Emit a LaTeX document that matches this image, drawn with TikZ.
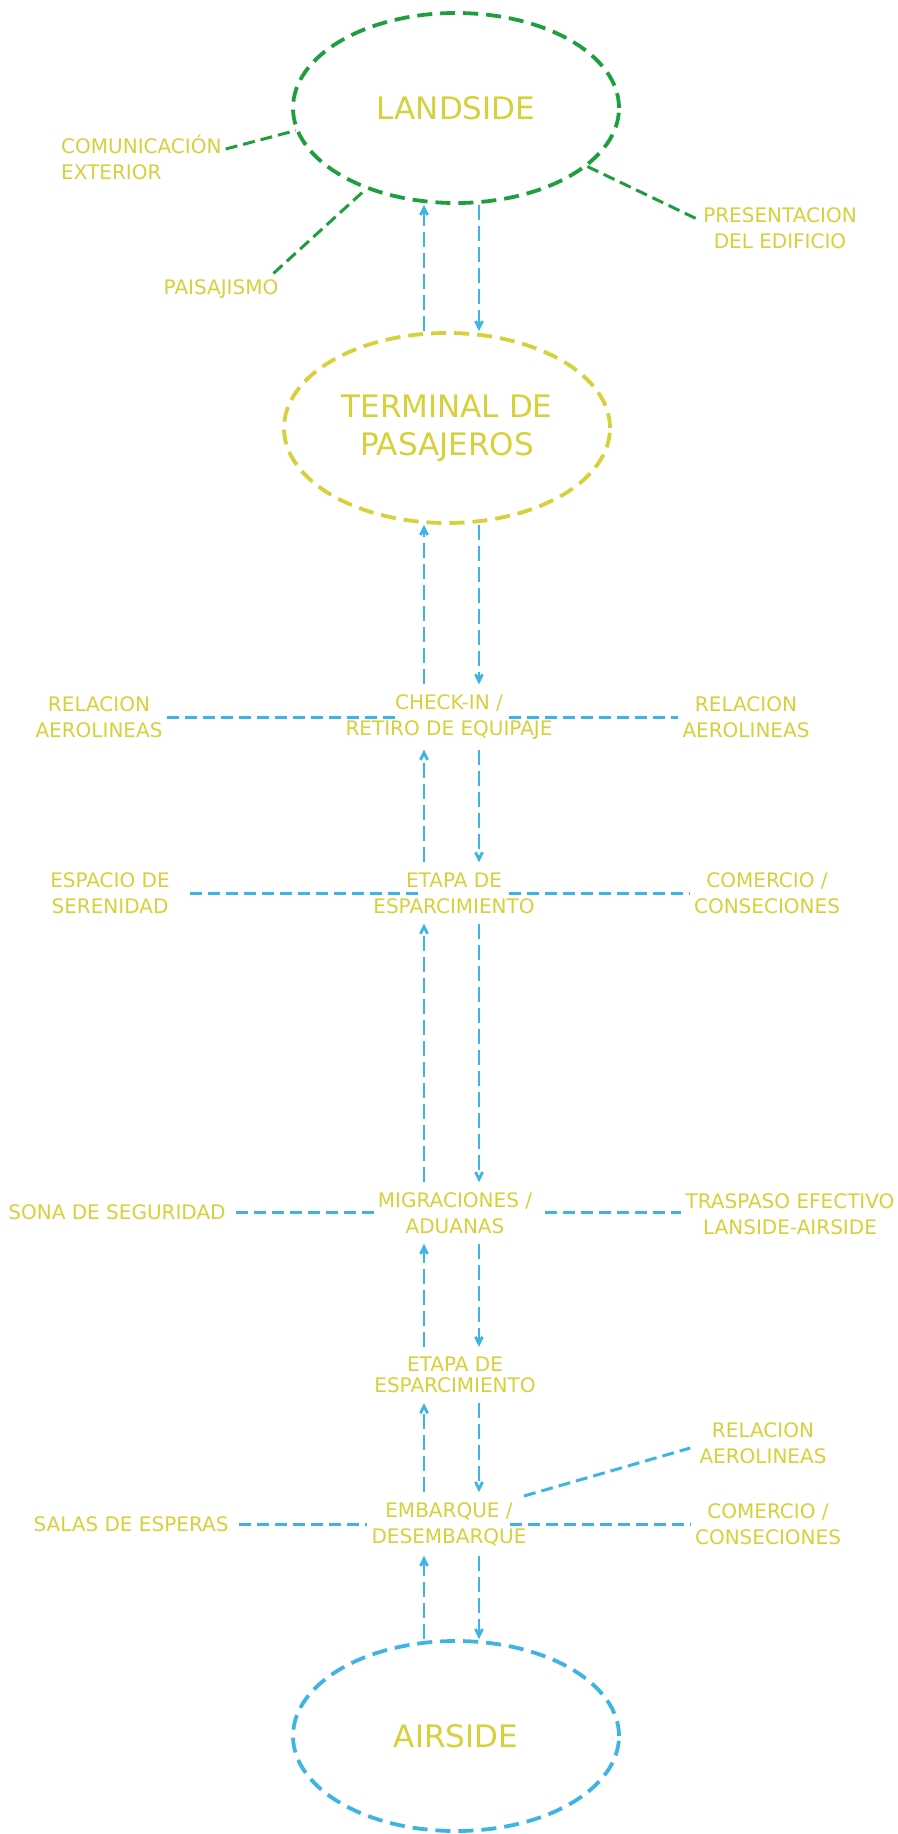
\documentclass[tikz,border=0pt]{standalone}
\usepackage{fontspec}
\setmainfont{DejaVu Sans}
\usetikzlibrary{arrows.meta,calc,shapes.geometric}
\definecolor{lgreen}{RGB}{30,158,62}
\definecolor{lyellow}{RGB}{214,208,58}
\definecolor{lblue}{RGB}{62,180,228}

\begin{document}
\begin{tikzpicture}[x=1pt,y=-1pt,
  zone/.style={ellipse, draw, line width=3.8pt, dash pattern=on 15pt off 8pt,
    minimum width=326pt, minimum height=190pt, inner sep=0pt, text=lyellow,
    font=\fontsize{31}{38}\selectfont, align=center},
  lbl/.style={text=lyellow, font=\fontsize{20}{26}\selectfont, align=center, inner sep=4pt},
  stage/.style={lbl, inner xsep=4pt, inner ysep=10pt},
  flow/.style={draw=lblue, line width=2.8pt, dash pattern=on 15pt off 6pt,
    -{Straight Barb[length=7pt,width=7pt]}},
  link/.style={draw=lblue, line width=3pt, dash pattern=on 12pt off 6pt},
  glink/.style={draw=lgreen, line width=3pt, dash pattern=on 12pt off 6pt},
]
\useasboundingbox (0,0) rectangle (897,1834);

% main zones
\node[zone, draw=lgreen]  (land) at (456,108)  {LANDSIDE};
\node[zone, draw=lyellow] (term) at (447,428)  {TERMINAL DE\\PASAJEROS};
\node[zone, draw=lblue]   (air)  at (456,1736) {AIRSIDE};

% landside surroundings
\node[lbl, align=left, anchor=west] (comun) at (57,157) {COMUNICACIÓN\\EXTERIOR};
\node[lbl] (paisaj) at (221,289) {PAISAJISMO};
\node[lbl] (presen) at (780,228) {PRESENTACION\\DEL EDIFICIO};

% passenger stages
\node[stage] (check)  at (449,717)  {CHECK-IN /\\RETIRO DE EQUIPAJE};
\node[stage] (etapa1) at (454,893)  {ETAPA DE\\ESPARCIMIENTO};
\node[stage] (migra)  at (455,1213) {MIGRACIONES /\\ADUANAS};
\node[stage, font=\fontsize{20}{21}\selectfont] (etapa2) at (455,1375) {ETAPA DE\\ESPARCIMIENTO};
\node[stage] (embar)  at (449,1524) {EMBARQUE /\\DESEMBARQUE};

% side labels
\node[lbl] (relL)    at (99,717)   {RELACION\\AEROLINEAS};
\node[lbl] (relR)    at (746,717)  {RELACION\\AEROLINEAS};
\node[lbl] (espacio) at (110,893)  {ESPACIO DE\\SERENIDAD};
\node[lbl] (comer1)  at (767,893)  {COMERCIO /\\CONSECIONES};
\node[lbl] (sona)    at (117,1212) {SONA DE SEGURIDAD};
\node[lbl] (trasp)   at (790,1214) {TRASPASO EFECTIVO\\LANSIDE-AIRSIDE};
\node[lbl] (salas)   at (131,1524) {SALAS DE ESPERAS};
\node[lbl] (relR2)   at (763,1443) {RELACION\\AEROLINEAS};
\node[lbl] (comer2)  at (768,1524) {COMERCIO /\\CONSECIONES};

% green links around landside
\draw[glink] ($(comun.east)+(0,-8)$) -- (land.188);
\draw[glink] ($(paisaj.north east)+(-9,-2)$) -- (land.222);
\draw[glink] (land.336) -- ($(presen.west)+(0,-8)$);

% two-way passenger flow
\coordinate (xl) at (424,0);
\coordinate (xr) at (479,0);
\draw[flow] (term.north -| xl) -- (land.south -| xl);
\draw[flow] (land.south -| xr) -- (term.north -| xr);
\draw[flow] (check.north -| xl) -- (term.south -| xl);
\draw[flow] (term.south -| xr) -- (check.north -| xr);
\draw[flow] (etapa1.north -| xl) -- (check.south -| xl);
\draw[flow] (check.south -| xr) -- (etapa1.north -| xr);
\draw[flow] (migra.north -| xl) -- (etapa1.south -| xl);
\draw[flow] (etapa1.south -| xr) -- (migra.north -| xr);
\draw[flow] (etapa2.north -| xl) -- (migra.south -| xl);
\draw[flow] (migra.south -| xr) -- (etapa2.north -| xr);
\draw[flow] (embar.north -| xl) -- (etapa2.south -| xl);
\draw[flow] (etapa2.south -| xr) -- (embar.north -| xr);
\draw[flow] (air.north -| xl) -- (embar.south -| xl);
\draw[flow] (embar.south -| xr) -- (air.north -| xr);

% side relations
\draw[link] (relL.east) -- ($(check.center)+(-52,0)$);
\draw[link] ($(check.center)+(60,0)$) -- (relR.west);
\draw[link] ($(espacio.east)+(16,0)$) -- ($(etapa1.center)+(-34,0)$);
\draw[link] ($(etapa1.center)+(55,0)$) -- (comer1.west);
\draw[link, shorten <=6pt] (sona.east) -- (sona.east -| migra.west);
\coordinate (migraR) at ($(migra.east)+(9,-1)$);
\draw[link] (migraR) -- (migraR -| trasp.west);
\draw[link, shorten <=6pt] (salas.east) -- (salas.east -| embar.west);
\draw[link] ($(embar.center)+(61,0)$) -- (comer2.west);
\draw[link] ($(embar.center)+(75,-28)$) -- ($(relR2.west)+(-5,5)$);
\end{tikzpicture}
\end{document}
